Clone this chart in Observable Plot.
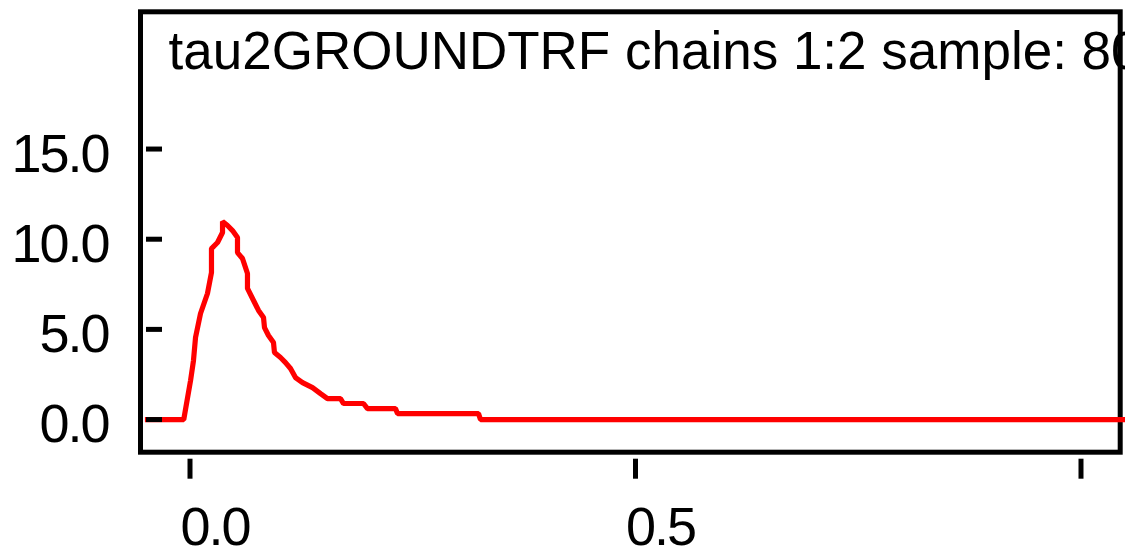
<!DOCTYPE html>
<html><head><meta charset="utf-8">
<script src="https://cdn.jsdelivr.net/npm/d3@7"></script>
<script src="https://cdn.jsdelivr.net/npm/@observablehq/plot@0.6"></script>
<style>
html,body{margin:0;padding:0;background:#fff;overflow:hidden}
g[aria-label="y-axis tick label"] text, g[aria-label="x-axis tick label"] text {letter-spacing:-2px}
</style></head><body><div id="chart"></div>
<script>
const title = "tau2GROUNDTRF chains 1:2 sample: 80000";
const xValues = [-0.0477, -0.0070, 0.0006, 0.0039, 0.0062, 0.0118, 0.0196, 0.0241, 0.0241, 0.0309, 0.0365, 0.0365,
  0.0421, 0.0477, 0.0533, 0.0533, 0.0589, 0.0645, 0.0645, 0.0713, 0.0769, 0.0825, 0.0836, 0.0881, 0.0937, 0.0948,
  0.1016, 0.1072, 0.1128, 0.1184, 0.1263, 0.1375, 0.1465, 0.1543, 0.1689, 0.1723, 0.1947, 0.1992, 0.2306, 0.2329,
  0.3238, 0.3260, 1.0499];
const densityValues = [0, 0, 2.16, 3.27, 4.55, 5.88, 6.99, 8.15, 9.48, 9.82, 10.37, 10.98,
  10.76, 10.48, 10.09, 9.26, 8.93, 8.10, 7.27, 6.60, 6.05, 5.66, 5.10, 4.66, 4.27, 3.72,
  3.44, 3.16, 2.83, 2.33, 2.05, 1.77, 1.44, 1.16, 1.16, 0.89, 0.89, 0.61, 0.61, 0.33,
  0.33, 0, 0];
const yTicks = [0, 5, 10, 15];
const xTicks = [0, 0.5, 1.0];
const xLabelTicks = [0, 0.5];

const data = xValues.map((x, i) => ({x, y: densityValues[i]}));
const fmt = d => d.toFixed(1);

const chart = Plot.plot({
  width: 1125,
  height: 549,
  marginLeft: 140,
  marginRight: 5.3,
  marginTop: 11.3,
  marginBottom: 97.3,
  style: {fontFamily: "'Liberation Sans', Arial, sans-serif", color: "black", background: "white", overflow: "hidden"},
  x: {domain: [-0.05556, 1.0440]},
  y: {domain: [-1.81, 22.61]},
  marks: [
    Plot.frame({stroke: "black", strokeWidth: 5}),
    Plot.text([title], {frameAnchor: "top-left", textAnchor: "start", lineAnchor: "top", dx: 28, dy: 19.4, fontSize: 53, fill: "black"}),
    Plot.line(data, {x: "x", y: "y", stroke: "#ff0000", strokeWidth: 5.2, strokeLinejoin: "miter", strokeLinecap: "square"}),
    Plot.axisY({ticks: yTicks, tickSize: -16, dx: 6, text: null, label: null, strokeWidth: 5}),
    Plot.axisY({ticks: yTicks, tickSize: 0, tickPadding: 32, tickFormat: fmt, fontSize: 54, dy: 5.5, label: null}),
    Plot.axisX({ticks: xTicks, tickSize: 20, dy: 7, text: null, label: null, strokeWidth: 5}),
    Plot.axisX({ticks: xLabelTicks, tickSize: 0, tickPadding: 54, tickFormat: fmt, fontSize: 54, dx: 25, label: null})
  ]
});
document.getElementById("chart").appendChild(chart);
</script></body></html>
